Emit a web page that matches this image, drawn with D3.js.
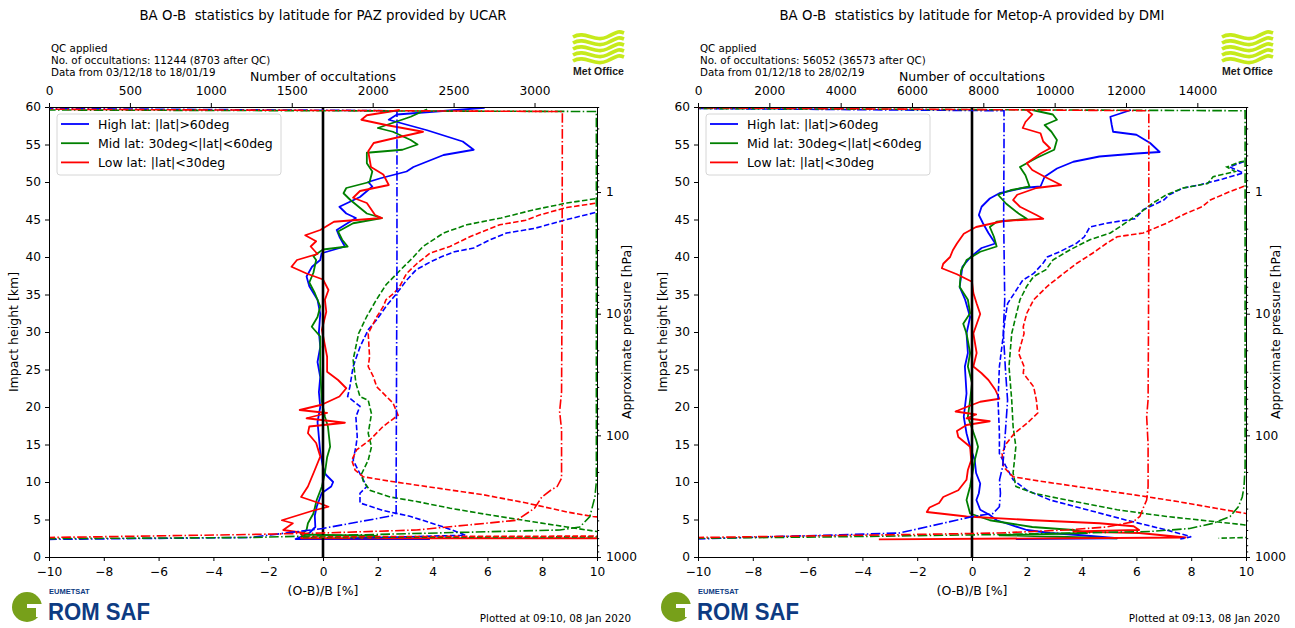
<!DOCTYPE html>
<html>
<head>
<meta charset="utf-8">
<script src="https://cdn.jsdelivr.net/npm/d3@7"></script>
<style>
body { margin: 0; background: #fff; }
svg { font-family: "DejaVu Sans", sans-serif; }
text { white-space: pre; }
</style>
</head>
<body>
<div id="chart"></div>
<script>
// Axis ticks
const biasTicks = [-10, -8, -6, -4, -2, 0, 2, 4, 6, 8, 10];
const heightTicks = [0, 5, 10, 15, 20, 25, 30, 35, 40, 45, 50, 55, 60];
const pressureTicks = [1, 10, 100, 1000];
const pazCountTicks = [0, 500, 1000, 1500, 2000, 2500, 3000];
const metCountTicks = [0, 2000, 4000, 6000, 8000, 10000, 12000, 14000];
const pazCountMax = 3386;
const metCountMax = 15365;

const legendLabels = ["High lat: |lat|>60deg", "Mid lat: 30deg<|lat|<60deg", "Low lat: |lat|<30deg"];

// PAZ / UCAR : [value, impact height km]
const pazHighMean = [[5.9,59.9],[2.7,59.0],[2.4,58.3],[3.8,56.9],[5.1,55.4],[5.5,54.3],[4.4,53.6],[3.3,52.0],[3.05,51.4],[2.1,50.5],[1.65,50.0],[1.8,49.4],[1.35,48.0],[0.6,46.7],[0.85,45.8],[1.2,45.2],[0.5,43.6],[0.6,42.7],[0.8,41.4],[-0.05,40.5],[-0.1,39.6],[-0.4,38.7],[-0.6,37.4],[-0.5,36.1],[-0.2,34.3],[-0.1,32.4],[-0.15,30.0],[-0.1,28.0],[-0.2,26.0],[-0.1,24.0],[-0.15,22.0],[-0.1,20.0],[-0.2,18.0],[-0.15,16.0],[-0.1,14.0],[0.0,12.0],[0.1,11.0],[0.37,10.0],[0.3,9.4],[-0.05,8.5],[-0.23,6.7],[-0.3,5.5],[-0.28,4.0],[-0.5,3.2],[-1.0,2.4],[3.9,2.4]];
const pazMidMean = [[3.8,59.7],[3.2,58.7],[2.0,57.2],[2.55,56.7],[3.2,55.6],[3.45,55.0],[2.9,54.3],[1.6,53.9],[1.6,52.5],[1.8,51.4],[1.7,50.0],[0.85,49.2],[0.75,48.5],[1.0,47.6],[1.6,45.8],[2.15,45.2],[1.1,44.5],[0.55,43.4],[0.7,42.3],[0.9,41.4],[0.0,41.0],[-0.35,40.1],[-0.25,39.6],[-0.35,37.9],[-0.5,36.6],[-0.3,35.2],[-0.1,33.4],[-0.2,32.0],[-0.41,30.7],[-0.1,29.4],[-0.1,25.4],[-0.05,20.9],[0.07,18.7],[0.18,17.4],[0.26,14.7],[0.15,13.3],[0.07,11.2],[-0.04,9.4],[-0.23,7.6],[-0.35,5.8],[-0.55,4.5],[-0.6,3.6],[-0.8,3.0],[2.0,2.8]];
const pazLowMean = [[2.8,59.6],[1.6,58.9],[1.4,58.3],[2.3,57.6],[3.65,56.7],[2.55,55.8],[1.85,55.2],[1.65,54.1],[1.75,52.0],[2.2,51.0],[2.4,49.6],[1.35,48.8],[1.1,47.9],[1.6,47.2],[1.9,45.6],[2.15,45.2],[0.4,44.7],[-0.1,43.6],[-0.65,42.9],[-0.25,42.1],[-0.45,41.4],[-0.2,40.4],[-0.95,39.6],[-1.15,38.7],[-0.6,37.8],[0.0,37.0],[0.2,35.6],[0.07,34.3],[0.12,32.7],[-0.04,30.3],[0.15,26.7],[0.15,24.7],[0.55,23.6],[0.85,22.5],[0.6,21.4],[-0.05,20.3],[-0.85,19.6],[0.15,19.2],[-0.6,18.5],[0.8,17.9],[-0.5,17.4],[-0.55,16.5],[-0.25,15.2],[-0.1,13.4],[-0.3,11.6],[-0.55,9.4],[-0.8,8.0],[-0.15,7.2],[0.2,6.7],[-0.35,6.2],[-1.5,4.9],[-1.1,4.5],[-1.45,3.6],[-0.7,3.2],[-0.8,2.5],[10.5,2.5]];
const pazHighStd = [[10.5,46.3],[9.9,45.9],[8.8,44.9],[7.7,43.8],[6.7,43.2],[6.1,42.3],[5.5,41.2],[4.8,40.7],[4.3,40.0],[3.9,39.3],[3.4,38.3],[3.05,36.9],[2.7,35.2],[2.3,33.4],[1.95,31.6],[1.65,30.3],[1.35,28.0],[1.1,25.4],[0.98,22.7],[0.9,21.4],[1.35,20.1],[1.2,18.7],[1.25,16.0],[1.2,14.7],[1.1,12.9],[1.35,11.1],[1.6,9.4],[1.35,8.5],[1.35,7.2],[2.2,6.2],[3.2,5.4],[4.4,4.0],[5.0,3.2],[5.2,2.9],[1.0,2.5]];
const pazMidStd = [[10.5,48.2],[10.0,47.8],[8.9,47.2],[7.7,46.3],[6.5,45.2],[5.25,44.3],[4.4,43.2],[3.65,41.4],[3.3,40.0],[2.7,37.8],[2.3,36.3],[1.95,34.3],[1.6,32.1],[1.3,29.8],[1.1,26.3],[1.2,23.2],[1.35,21.4],[1.65,20.9],[1.77,19.1],[1.65,16.5],[1.77,14.7],[1.65,12.9],[1.41,11.1],[1.47,10.1],[1.71,8.9],[2.45,8.0],[3.42,7.4],[4.64,6.5],[6.1,5.6],[7.66,4.7],[8.9,4.0],[10.0,3.4],[11.0,3.0],[11.0,2.7],[-0.8,2.6]];
const pazLowStd = [[10.5,47.5],[10.0,47.2],[8.9,46.6],[7.9,45.6],[7.4,44.9],[6.45,44.3],[5.97,43.6],[5.36,42.7],[4.63,41.4],[3.9,40.5],[3.42,39.1],[3.05,37.8],[2.8,36.1],[2.6,35.2],[2.3,34.3],[2.2,33.4],[1.96,32.0],[1.65,29.8],[1.7,26.7],[1.65,25.4],[1.83,24.1],[1.96,22.7],[2.56,20.5],[2.74,18.9],[2.19,17.4],[1.71,15.6],[1.23,14.3],[1.05,12.9],[1.17,11.6],[1.47,10.7],[2.45,10.1],[4.15,9.2],[5.85,8.3],[7.43,7.2],[8.9,6.0],[9.85,5.4],[11.0,5.0],[11.0,2.8],[-0.7,2.7]];
const pazHighCount = [[0,0],[0,2.35],[1240,2.6],[1690,3.8],[2120,5.5],[2145,5.9],[2145,10],[2150,40],[2150,59.5],[0,59.8]];
const pazMidCount = [[0,0],[0,2.45],[1240,2.6],[3157,3.6],[3280,4.0],[3342,5.4],[3373,8.0],[3382,10],[3382,59.4],[0,59.6]];
const pazLowCount = [[0,0],[0,2.6],[1240,3.0],[1690,3.2],[2270,3.6],[2890,4.9],[3000,6.5],[3045,8.0],[3100,8.9],[3140,9.4],[3167,10.5],[3167,17],[3155,19.4],[3167,22],[3170,35],[3172,59.4],[0,59.7]];

// Metop-A / DMI
const metHighMean = [[5.8,59.6],[5.05,58.7],[5.1,57.6],[5.15,56.7],[6.0,56.3],[6.5,55.2],[6.85,54.0],[6.0,53.8],[4.65,53.4],[3.7,52.7],[3.1,51.8],[2.65,50.7],[2.5,49.4],[1.85,49.2],[1.0,48.5],[0.65,47.8],[0.35,46.7],[0.25,45.6],[0.4,44.5],[0.6,43.2],[0.85,41.8],[0.35,41.2],[-0.05,40.0],[-0.35,38.7],[-0.45,36.0],[-0.25,34.3],[-0.07,32.0],[-0.2,29.8],[-0.15,27.2],[-0.26,25.4],[-0.2,21.8],[-0.3,18.7],[-0.2,16.5],[-0.07,14.7],[0.1,12.9],[0.15,11.2],[0.3,9.8],[0.25,8.5],[0.16,7.6],[0.3,6.3],[0.65,5.6],[0.9,4.9],[1.4,4.3],[2.0,3.6],[2.85,3.2],[4.0,2.9],[5.3,2.5],[1.6,2.4]];
const metMidMean = [[2.2,59.6],[2.95,59.0],[3.1,58.3],[2.65,57.6],[2.9,56.7],[3.1,55.6],[3.0,54.3],[2.35,53.2],[1.75,52.0],[1.95,50.9],[2.1,49.4],[1.4,48.9],[0.95,48.3],[1.25,47.1],[1.7,45.8],[2.0,45.1],[0.9,44.7],[0.65,44.0],[0.8,42.7],[0.9,41.4],[0.3,40.7],[-0.2,39.6],[-0.25,39.2],[-0.4,38.2],[-0.45,36.0],[-0.15,34.3],[-0.07,32.5],[-0.32,31.1],[-0.2,29.8],[-0.07,27.2],[-0.15,25.4],[0.0,23.2],[-0.07,20.9],[-0.15,18.7],[0.15,15.6],[0.22,14.7],[0.1,12.9],[-0.07,9.4],[-0.2,7.6],[-0.07,5.8],[0.65,4.9],[2.2,4.0],[3.7,3.6],[4.2,3.2],[1.0,2.9],[5.3,2.5]];
const metLowMean = [[2.0,59.6],[2.2,59.0],[1.95,58.0],[1.85,57.2],[2.5,56.5],[2.6,55.4],[2.85,54.5],[2.5,53.8],[2.0,52.5],[2.2,51.6],[2.65,50.7],[3.25,49.6],[2.35,49.2],[1.65,48.3],[1.5,47.6],[1.75,46.7],[2.35,45.6],[2.6,45.1],[1.15,44.8],[0.15,44.0],[-0.3,43.1],[-0.55,41.8],[-0.7,40.9],[-0.8,40.0],[-1.05,39.1],[-1.1,38.5],[-0.55,37.7],[0.0,36.7],[0.05,35.2],[0.17,33.8],[0.3,32.4],[0.05,29.8],[0.17,27.2],[0.05,25.4],[0.35,24.5],[0.6,23.6],[0.85,22.3],[1.0,21.1],[0.3,20.7],[-0.2,20.0],[-0.6,19.4],[0.15,19.0],[-0.2,18.5],[0.65,18.1],[-0.2,17.6],[-0.55,16.8],[-0.5,16.0],[-0.07,14.7],[-0.03,12.9],[-0.15,11.6],[-0.2,10.3],[-0.5,8.9],[-1.05,8.0],[-1.2,7.2],[-1.55,6.6],[-1.65,6.0],[-0.2,5.4],[2.25,4.9],[4.65,4.5],[5.9,4.1],[6.1,3.6],[3.7,3.4],[6.1,3.2],[7.8,2.6],[-3.4,2.35]];
const metHighStd = [[10.5,53.0],[9.9,52.7],[9.4,52.0],[9.9,51.2],[9.15,50.4],[8.3,49.6],[7.7,49.2],[7.2,48.3],[7.0,47.6],[6.25,46.3],[5.95,45.1],[4.9,44.5],[4.3,44.0],[4.1,42.7],[3.8,41.8],[3.2,40.7],[2.75,40.0],[2.6,39.2],[2.25,37.8],[1.85,36.9],[1.55,35.2],[1.3,33.8],[1.2,31.6],[1.15,29.8],[1.0,25.4],[0.95,20.9],[1.0,16.5],[1.0,13.8],[1.25,12.0],[1.5,10.3],[2.0,8.9],[2.85,7.6],[4.2,6.3],[5.65,4.9],[7.1,3.6],[8.0,2.7],[7.6,2.4]];
const metMidStd = [[10.5,53.0],[9.8,52.7],[9.3,52.0],[9.6,51.4],[8.8,50.7],[8.6,49.8],[7.7,49.2],[7.1,48.3],[6.6,47.2],[6.1,45.8],[5.75,44.9],[5.05,43.2],[4.3,42.3],[3.6,41.0],[2.95,39.6],[2.7,38.3],[2.25,37.4],[2.0,36.1],[1.75,34.3],[1.6,32.1],[1.45,29.8],[1.35,25.4],[1.45,20.9],[1.5,17.4],[1.6,14.7],[1.55,12.9],[1.5,11.2],[1.6,9.4],[2.25,8.5],[3.45,7.6],[5.3,6.3],[7.1,5.4],[8.9,4.7],[9.9,4.3],[11.0,3.6],[11.0,2.7],[9.0,2.5]];
const metLowStd = [[10.5,49.8],[9.9,49.4],[9.4,48.7],[8.7,47.6],[8.4,46.7],[7.8,45.8],[7.1,44.5],[6.25,43.2],[5.3,42.7],[4.9,41.8],[4.4,40.5],[3.8,39.1],[3.2,37.4],[2.75,36.1],[2.25,34.3],[2.0,32.5],[1.87,30.7],[1.9,29.8],[1.7,27.2],[1.9,25.4],[1.87,24.5],[2.25,22.7],[2.35,20.9],[2.4,19.2],[2.0,17.8],[1.55,16.5],[1.25,15.1],[1.1,13.8],[1.15,12.0],[1.5,10.7],[2.5,10.1],[4.2,9.2],[5.9,8.3],[7.5,7.4],[8.9,6.5],[10.0,5.8],[11.0,5.4]];
const metHighCount = [[0,0],[0,2.4],[2000,2.7],[4000,2.95],[5650,3.2],[7240,4.9],[7700,5.4],[8270,5.8],[8450,6.7],[8480,8.5],[8455,10.3],[8540,12.0],[8580,14],[8680,20.9],[8620,25],[8560,30],[8600,34.3],[8570,45],[8580,55],[8580,59.5],[0,59.8]];
const metMidCount = [[0,0],[0,2.5],[4000,2.7],[8450,3.0],[12670,3.4],[13790,3.8],[14450,4.5],[14920,5.4],[15150,6.7],[15260,8.0],[15310,9.4],[15340,12],[15340,59.5],[0,59.8]];
const metLowCount = [[0,0],[0,2.6],[3000,2.8],[6000,3.0],[8450,3.2],[10330,3.6],[11450,4.0],[12200,4.7],[12390,5.4],[12480,6.5],[12580,7.6],[12620,9.4],[12620,15],[12580,18.7],[12620,21],[12630,30],[12640,45],[12640,59.5],[0,59.9]];

const COLORS = ["#0000ff", "#008000", "#ff0000"];
const DASHED = "5.5,2.4";
const DASHDOT = "9.6,2.4,1.5,2.4";
const TICK_FONT = "12.2px";
const LABEL_FONT = "12.5px";
const PLOT_W = 548;
const PLOT_H = 450;
const PLOT_TOP = 107;

const panels = [
    {
        id: "paz", left: 49,
        title: "BA O-B  statistics by latitude for PAZ provided by UCAR",
        header: ["QC applied", "No. of occultations: 11244 (8703 after QC)", "Data from 03/12/18 to 18/01/19"],
        plotted: "Plotted at 09:10, 08 Jan 2020",
        countMax: pazCountMax, countTicks: pazCountTicks,
        mean: [pazHighMean, pazMidMean, pazLowMean],
        std: [pazHighStd, pazMidStd, pazLowStd],
        count: [pazHighCount, pazMidCount, pazLowCount]
    },
    {
        id: "met", left: 698,
        title: "BA O-B  statistics by latitude for Metop-A provided by DMI",
        header: ["QC applied", "No. of occultations: 56052 (36573 after QC)", "Data from 01/12/18 to 28/02/19"],
        plotted: "Plotted at 09:13, 08 Jan 2020",
        countMax: metCountMax, countTicks: metCountTicks,
        mean: [metHighMean, metMidMean, metLowMean],
        std: [metHighStd, metMidStd, metLowStd],
        count: [metHighCount, metMidCount, metLowCount]
    }
];

const svg = d3.select("#chart")
    .append("svg")
    .attr("width", 1295)
    .attr("height", 628);

function styleAxis(sel) {
    sel.attr("font-family", null).attr("font-size", null);
    sel.select(".domain").attr("stroke", "#000").attr("stroke-width", 1);
    sel.selectAll(".tick line").attr("stroke", "#000");
    sel.selectAll(".tick text").attr("fill", "#000").style("font-size", TICK_FONT);
}

function drawMetOfficeLogo(x, y) {
    const g = svg.append("g").attr("transform", `translate(${x},${y})`);
    for (let i = 0; i < 5; i++) {
        const y0 = 4 + i * 6;
        g.append("path")
            .attr("d", `M0,${y0} C12,${y0 - 7} 22,${y0 + 6} 34,${y0} S46,${y0 - 6} 51,${y0 - 4}`)
            .attr("fill", "none")
            .attr("stroke", "#c6ea1c")
            .attr("stroke-width", 3.6);
    }
    g.append("text")
        .attr("x", 25.5).attr("y", 42)
        .attr("text-anchor", "middle")
        .attr("font-family", "Liberation Sans, Arial, sans-serif")
        .attr("font-weight", "bold")
        .style("font-size", "10.5px")
        .attr("fill", "#1a1a1a")
        .text("Met Office");
}

function drawRomSafLogo(x, y) {
    const g = svg.append("g").attr("transform", `translate(${x},${y})`);
    g.append("circle").attr("cx", 17).attr("cy", 15).attr("r", 15).attr("fill", "#77a01a");
    g.append("rect").attr("x", 17).attr("y", 12).attr("width", 16).attr("height", 4).attr("fill", "#fff");
    g.append("rect").attr("x", 26).attr("y", 16).attr("width", 7).attr("height", 9).attr("fill", "#fff");
    g.append("text")
        .attr("x", 39).attr("y", 2)
        .attr("font-family", "Liberation Sans, Arial, sans-serif")
        .attr("font-weight", "bold")
        .style("font-size", "7.5px")
        .attr("fill", "#0d3b82")
        .text("EUMETSAT");
    g.append("text")
        .attr("x", 38).attr("y", 28)
        .attr("font-family", "Liberation Sans, Arial, sans-serif")
        .attr("font-weight", "bold")
        .style("font-size", "23px")
        .attr("textLength", 102)
        .attr("lengthAdjust", "spacingAndGlyphs")
        .attr("fill", "#0d3b82")
        .text("ROM SAF");
}

function drawPanel(p) {
    const cx = p.left + PLOT_W / 2;

    // Titles and annotations
    svg.append("text")
        .attr("x", cx).attr("y", 20)
        .attr("text-anchor", "middle")
        .attr("xml:space", "preserve")
        .style("font-size", "13.3px")
        .text(p.title);

    svg.selectAll(null)
        .data(p.header)
        .enter()
        .append("text")
        .attr("x", p.left + 2)
        .attr("y", (d, i) => 52 + i * 12)
        .style("font-size", "10.3px")
        .text(d => d);

    svg.append("text")
        .attr("x", p.left + 582).attr("y", 622)
        .attr("text-anchor", "end")
        .style("font-size", "10.3px")
        .text(p.plotted);

    drawMetOfficeLogo(p.left + 524, 33);
    drawRomSafLogo(p.left - 39, 592);

    const g = svg.append("g").attr("transform", `translate(${p.left},${PLOT_TOP})`);

    const x = d3.scaleLinear().domain([-10, 10]).range([0, PLOT_W]);
    const y = d3.scaleLinear().domain([0, 60]).range([PLOT_H, 0]);
    const xCount = d3.scaleLinear().domain([0, p.countMax]).range([0, PLOT_W]);
    const yPressure = d3.scaleLog().domain([1000, 0.2]).range([PLOT_H, 0]);

    g.append("clipPath").attr("id", `clip-${p.id}`)
        .append("rect").attr("width", PLOT_W).attr("height", PLOT_H);

    const plot = g.append("g").attr("clip-path", `url(#clip-${p.id})`);

    const biasLine = d3.line().x(d => x(d[0])).y(d => y(d[1]));
    const countLine = d3.line().x(d => xCount(d[0])).y(d => y(d[1]));

    // Mean O-B
    p.mean.forEach((series, i) => {
        plot.append("path")
            .datum(series)
            .attr("d", biasLine)
            .attr("fill", "none")
            .attr("stroke", COLORS[i])
            .attr("stroke-width", 1.8)
            .attr("stroke-linejoin", "round");
    });

    // Zero line
    plot.append("line")
        .attr("x1", x(0)).attr("x2", x(0))
        .attr("y1", 0).attr("y2", PLOT_H)
        .attr("stroke", "#000")
        .attr("stroke-width", 2.6);

    // Standard deviation
    p.std.forEach((series, i) => {
        plot.append("path")
            .datum(series)
            .attr("d", biasLine)
            .attr("fill", "none")
            .attr("stroke", COLORS[i])
            .attr("stroke-width", 1.6)
            .attr("stroke-dasharray", DASHED);
    });

    // Number of occultations
    p.count.forEach((series, i) => {
        plot.append("path")
            .datum(series)
            .attr("d", countLine)
            .attr("fill", "none")
            .attr("stroke", COLORS[i])
            .attr("stroke-width", 1.6)
            .attr("stroke-dasharray", DASHDOT);
    });

    // Axes
    g.append("g")
        .attr("transform", `translate(0,${PLOT_H})`)
        .call(d3.axisBottom(x).tickValues(biasTicks).tickSize(4).tickPadding(6).tickSizeOuter(0))
        .call(styleAxis);

    g.append("g")
        .call(d3.axisTop(xCount).tickValues(p.countTicks).tickSize(4).tickPadding(8).tickSizeOuter(0).tickFormat(d3.format("d")))
        .call(styleAxis);

    g.append("g")
        .call(d3.axisLeft(y).tickValues(heightTicks).tickSize(4).tickPadding(4).tickSizeOuter(0))
        .call(styleAxis);

    const minorPressure = yPressure.ticks().filter(v => !pressureTicks.includes(v));
    const rightAxis = g.append("g").attr("transform", `translate(${PLOT_W},0)`);
    rightAxis.append("g")
        .call(d3.axisRight(yPressure).tickValues(minorPressure).tickSize(2.2).tickFormat("").tickSizeOuter(0))
        .call(styleAxis);
    rightAxis.append("g")
        .call(d3.axisRight(yPressure).tickValues(pressureTicks).tickSize(4).tickPadding(5).tickSizeOuter(0).tickFormat(d3.format("d")))
        .call(styleAxis);

    // Axis labels
    g.append("text")
        .attr("x", PLOT_W / 2).attr("y", PLOT_H + 37.5)
        .attr("text-anchor", "middle")
        .style("font-size", LABEL_FONT)
        .text("(O-B)/B [%]");

    g.append("text")
        .attr("x", PLOT_W / 2).attr("y", -26)
        .attr("text-anchor", "middle")
        .style("font-size", LABEL_FONT)
        .text("Number of occultations");

    g.append("text")
        .attr("transform", `translate(-31,${PLOT_H / 2}) rotate(-90)`)
        .attr("text-anchor", "middle")
        .style("font-size", LABEL_FONT)
        .text("Impact height [km]");

    g.append("text")
        .attr("transform", `translate(${PLOT_W + 34},${PLOT_H / 2}) rotate(-90)`)
        .attr("text-anchor", "middle")
        .style("font-size", LABEL_FONT)
        .text("Approximate pressure [hPa]");

    // Legend
    const legend = g.append("g").attr("transform", "translate(8,7)");
    legend.append("rect")
        .attr("width", 224).attr("height", 61)
        .attr("rx", 3)
        .attr("fill", "#fff").attr("fill-opacity", 0.8)
        .attr("stroke", "#d6d6d6");
    legendLabels.forEach((label, i) => {
        const ly = 10 + i * 19.2;
        legend.append("line")
            .attr("x1", 4).attr("x2", 32)
            .attr("y1", ly).attr("y2", ly)
            .attr("stroke", COLORS[i]).attr("stroke-width", 1.8);
        legend.append("text")
            .attr("x", 41).attr("y", ly + 4.5)
            .style("font-size", LABEL_FONT)
            .text(label);
    });
}

panels.forEach(drawPanel);
</script>
</body>
</html>
